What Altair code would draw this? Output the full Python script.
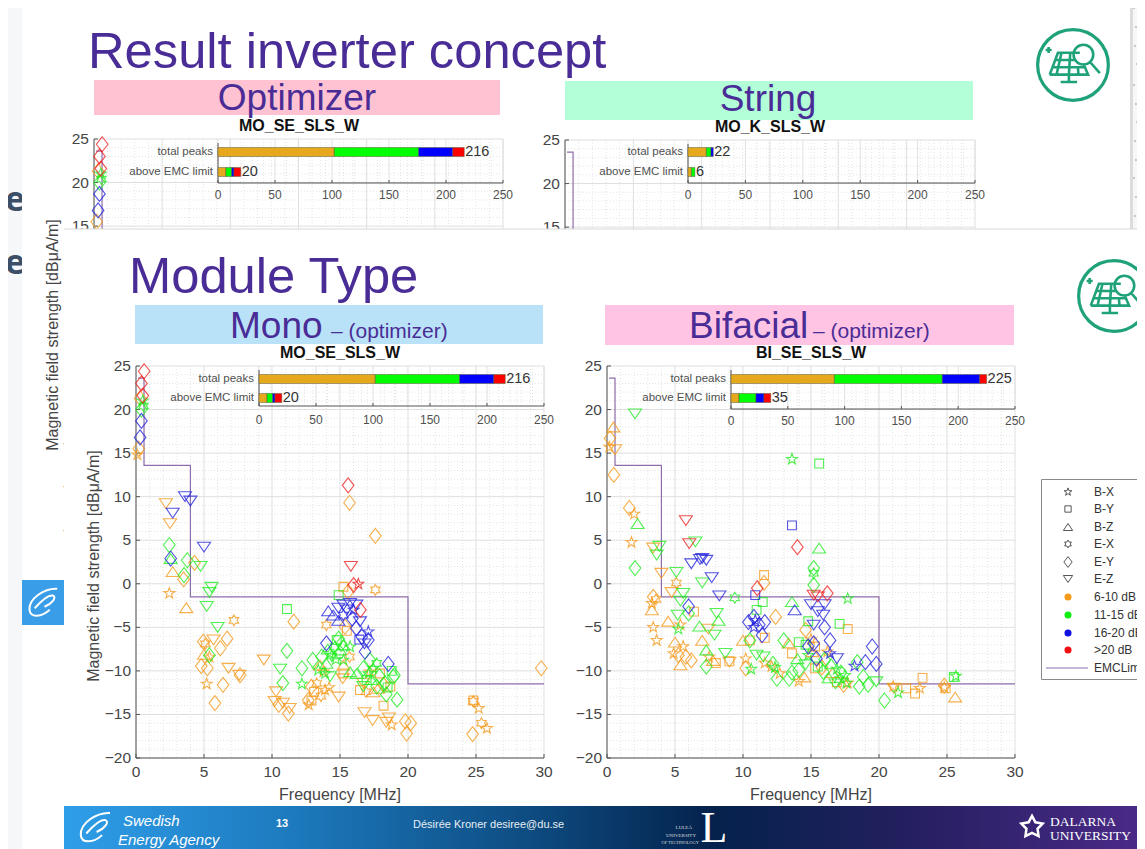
import math
import altair as alt
import pandas as pd

# ---------- values ----------
X_TICKS = [0, 5, 10, 15, 20, 25, 30]
Y_TICKS = [-20, -15, -10, -5, 0, 5, 10, 15, 20, 25]
INSET_TICKS = [0, 50, 100, 150, 200, 250]
EMC_F = [0.15, 0.59, 0.59, 4, 4, 20, 20, 30]
EMC_L = [23.6, 23.6, 13.6, 13.6, -1.5, -1.5, -11.5, -11.5]
ROWS = ["total peaks", "above EMC limit"]
BANDS = ["6-10 dB", "11-15 dB", "16-20 dB", ">20 dB"]
BAND_COLORS = ["#f59a1b", "#22ee22", "#2222dd", "#ee2020"]
BAR_COLORS = ["#e6a81c", "#00ff00", "#0000ff", "#ff0000"]
LEGEND_SHAPES = ["B-X", "B-Y", "B-Z", "E-X", "E-Y", "E-Z"]

MO_TOTAL = [102, 74, 30, 10]
MO_ABOVE = [7, 5, 2, 6]
BI_TOTAL = [91, 95, 33, 6]
BI_ABOVE = [7, 15, 7, 6]
K_TOTAL = [16, 4, 2, 0]
K_ABOVE = [3, 3, 0, 0]

MO_RED = [(0.6,24.4,'d'),(0.4,23,'d'),(0.5,21.6,'d'),(15.6,11.3,'d'),(15.8,2,'v'),(16,-0.15,'d'),(16.35,-0.03,'s'),
          (16.5,-3,'d')]
MO_BLUE = [(0.4,18.7,'d'),(0.3,16.8,'d'),(3.6,10,'v'),(4,9.5,'v'),(2.7,8.1,'v'),(5,4.2,'v'),(2.55,2.9,'d'),
           (14.14,-3.1,'t'),(14.5,-3.6,'t'),(14.88,-2.8,'v'),(15.25,-2.44,'v'),(15.74,-2.25,'v'),(16.2,-2.44,'v'),
           (16,-3,'s'),(16.47,-4.36,'v'),(16.2,-5.1,'d'),(17.08,-5.5,'s'),(17.08,-6.46,'d'),(16.6,-6.08,'d'),
           (16.42,-6.4,'q'),(16.84,-7.8,'d'),(14,-6.84,'d'),(18.55,-9.2,'d'),(15.25,-3.6,'h'),(14.88,-4.2,'t'),
           (15.5,-3.0,'v'),(16.8,-6.9,'v'),(15.9,-4.0,'d')]
MO_GREEN = [(0.4,20,'d'),(0.55,20.4,'h'),(0.5,21,'s'),(2.45,4.45,'d'),(2.55,2.9,'t'),(3.77,2.7,'d'),(3.53,1.0,'d'),
            (4.75,2.0,'v'),(5.56,-0.4,'v'),(5.4,-1,'v'),(5.2,-2.6,'v'),(6,-5,'v'),(5.4,-8.2,'d'),(11.1,-2.9,'q'),
            (10.6,-9.8,'v'),(11.1,-7.7,'d'),(10.8,-11.4,'d'),(12.2,-9.7,'d'),(13,-8.75,'d'),(14.9,-6.3,'d'),
            (19,-10.5,'d'),(19.2,-13.3,'d'),(18.4,-12.7,'d'),(14.9,-1.3,'q'),(12.2,-11.5,'s'),
            (14.27,-7.99,'s'),(14.63,-7.2,'h'),(15,-7.6,'t'),(14,-9.14,'t'),(13.65,-8.37,'d'),(14.76,-6.46,'q'),
            (15.25,-7.03,'t'),(15.74,-7.23,'s'),(14.27,-10.67,'v'),(13.9,-10.3,'s'),(16.23,-10.3,'t'),
            (16.72,-9.7,'d'),(17.2,-8.76,'d'),(17.7,-9.14,'h'),(17.45,-9.7,'s'),(16.96,-11.05,'q'),(17.7,-11.8,'d'),
            (18.3,-11.4,'d'),(18.92,-10.67,'d'),(16.72,-11.8,'v'),(15.74,-10.1,'t'),(15.25,-8.76,'s'),
            (14.4,-8.3,'h'),(14.7,-8.7,'s'),(15.1,-6.9,'d'),(14.1,-7.5,'t'),(13.4,-9.9,'s'),(17.1,-10.3,'s'),
            (17.9,-10.6,'d'),(18.5,-11.9,'q'),(17.3,-11.0,'t'),(18.8,-10.0,'q')]
MO_ORANGE = [(0.3,21.3,'d'),(0.2,15.5,'d'),(0.1,14.8,'s'),(2.2,9.2,'v'),(2.5,6.9,'v'),(15.7,9.3,'d'),(17.6,5.5,'d'),
             (2.7,1.4,'t'),(3.5,0.5,'d'),(2.45,-1.1,'s'),(3.7,-2.75,'t'),(4.3,2.4,'d'),(17.6,-0.7,'h'),(15.25,-0.34,'q'),
             (15.6,-0.9,'d'),(7.2,-4.2,'h'),(11.6,-4.35,'d'),(14,-4.74,'h'),(15.37,-4.93,'d'),
             (4.95,-6.65,'d'),(5.1,-6.9,'h'),(4.8,-9.45,'d'),(5.25,-9.7,'d'),(6.7,-6.3,'d'),(6.2,-7.4,'d'),
             (6.4,-11.6,'d'),(5.8,-13.7,'d'),(7.65,-10.5,'d'),(29.8,-9.7,'d'),(5.7,-6.45,'v'),(6.8,-9.7,'v'),
             (7.6,-10.5,'v'),(9.4,-8.75,'v'),(10.3,-12.4,'v'),(10.2,-13.5,'v'),(10.8,-13.7,'v'),(11.3,-14.3,'v'),
             (14.9,-13,'v'),(16.8,-14.8,'v'),(17.4,-15.7,'v'),(18.6,-15.4,'v'),(15.2,-10.9,'v'),(5.2,-11.5,'s'),
             (12.7,-13.9,'s'),(13.9,-12.2,'s'),(18.8,-16.2,'s'),(25.2,-14.3,'s'),(25.8,-16.6,'s'),(25.4,-16,'h'),
             (15.7,-8.4,'h'),(24.8,-13.5,'h'),(24.75,-17.25,'d'),(19.9,-17.2,'d'),(19.8,-15.8,'d'),(20.2,-16,'d'),
             (11.2,-14.9,'d'),(10.5,-13.9,'d'),(18.2,-14,'q'),(24.8,-13.4,'q'),(5,-8.1,'t'),(5.4,-8.4,'s'),
             (12.67,-13.35,'d'),(13.29,-11.44,'h'),(12.9,-11.82,'d'),(13.53,-9.33,'t'),(13.78,-10.1,'s'),
             (15.25,-9.33,'t'),(15.25,-10.29,'q'),(16.47,-12.2,'q'),(17.45,-12.4,'t'),(17.2,-10.1,'s'),
             (17.94,-10.3,'q'),(18.2,-11.6,'d'),(18.7,-11.8,'q'),(16.72,-11.4,'v'),(13.1,-12.4,'q'),(13.6,-12.9,'h'),
             (12.9,-13.4,'q'),(14.2,-11.9,'s'),(16.9,-12.4,'h'),(17.8,-12.0,'t'),(15.5,-5.4,'q'),(18.4,-15.9,'v')]

BI_RED = [(5.8,7.25,'v'),(6.05,4.6,'v'),(14,4.2,'d'),(11.05,-0.5,'d'),(15.2,-1.3,'v'),(15.5,-1.5,'v'),(16.2,-1.1,'d')]
BI_BLUE = [(13.6,6.7,'q'),(7,2.9,'v'),(6.2,2.3,'v'),(6.84,2.8,'v'),(7.3,2.7,'v'),(7.7,0.7,'v'),(8.26,-1.4,'v'),
           (6,-2.6,'d'),(10.9,-1.3,'q'),(10.4,-4.4,'d'),(10.8,-3.8,'d'),(10.8,-5,'s'),(11.2,-4.7,'d'),(11.6,-4.4,'d'),
           (10.9,-4.2,'s'),(11.4,-5.9,'d'),(13.8,-3,'t'),(15,-2.4,'v'),(15.5,-3.2,'v'),(16,-2.4,'v'),(15.9,-3.6,'v'),
           (15.2,-4.75,'v'),(16,-5,'d'),(16.4,-6.5,'d'),(15.2,-6.85,'d'),(14.8,-7.2,'d'),(15.4,-8.6,'d'),(16.4,-8,'s'),
           (16.9,-8.6,'v'),(18.2,-9.45,'s'),(19,-9,'d'),(19.5,-7.2,'d'),(19.8,-9.2,'d')]
BI_GREEN = [(2.06,19.5,'v'),(2.25,6.9,'t'),(3.85,4.3,'v'),(3.65,3.3,'v'),(6.5,4.8,'v'),(13.6,14.3,'s'),(15.6,13.8,'q'),
            (15.6,4.1,'t'),(2.06,1.8,'d'),(5.1,1.3,'v'),(7,0.1,'v'),(5.6,-1.1,'v'),(5.4,-2,'v'),(6,-3.4,'d'),
            (5.2,-3.6,'v'),(8.06,-3.4,'v'),(8.2,-4.2,'t'),(5.25,-5.2,'s'),(6.8,-4.85,'t'),(7.9,-5.9,'v'),(7.3,-7.6,'t'),
            (7.3,-9.5,'d'),(8.7,-8,'v'),(9.4,-1.6,'h'),(11.45,-2.1,'q'),(11,-3,'q'),(10.5,-6.5,'d'),(11,-8.2,'v'),
            (11.5,-8.4,'v'),(10.6,-9.8,'s'),(12.35,-9.6,'s'),(12.5,-10.9,'d'),(13.4,-10.9,'d'),(13,-6.5,'d'),
            (14.1,-6.7,'q'),(14.6,-7,'q'),(14.1,-9.9,'d'),(14.6,-9.3,'v'),(14.8,-4.3,'q'),(15.2,-0.15,'d'),
            (15.2,1.8,'d'),(15.2,1.2,'h'),(13.6,-2.05,'t'),(17.7,-1.7,'s'),(17.1,-4.6,'q'),(18.4,-9,'d'),
            (18.85,-10.7,'d'),(18.55,-11.8,'d'),(19.2,-11.6,'d'),(19.8,-11.25,'v'),(20.4,-13.4,'d'),(21.4,-12.5,'s'),
            (25.5,-10.7,'q'),(25.65,-10.6,'s'),(16,-8.7,'d'),(16.5,-9.2,'t'),(16.9,-9.8,'s'),(17.2,-10.2,'d'),
            (17.5,-10.5,'s'),(16.3,-10.8,'t'),(17.1,-11,'h'),(17.6,-11.4,'s'),(16.8,-11.5,'v'),(15.5,-9.5,'q'),
            (14.8,-8.2,'s'),(12.2,-9.2,'d'),(13.6,-10.2,'d'),(14,-8.6,'t'),(15.9,-10.1,'d')]
BI_ORANGE = [(0.47,18,'t'),(0.22,16.7,'d'),(0.59,15.4,'v'),(0.17,15.7,'s'),(0.5,12.5,'d'),(1.64,8.7,'d'),(2,8,'s'),
             (1.8,4.75,'s'),(3.4,4.1,'v'),(4,1.2,'v'),(5.1,0.1,'h'),(4.75,-1,'v'),(6.4,-3.2,'q'),(3.4,-1.5,'d'),
             (3.6,-1.8,'h'),(3.3,-2.25,'s'),(3.3,-3,'t'),(3.4,-5,'s'),(3.65,-6.5,'s'),(4.5,-4.3,'t'),(5.4,-4.7,'s'),
             (7.45,-5.2,'v'),(5,-6.7,'t'),(5.6,-7.2,'s'),(4.9,-8,'s'),(5.25,-8.2,'d'),(5.8,-8.4,'d'),(6.2,-8.8,'d'),
             (5.4,-9.3,'t'),(7,-6.5,'t'),(7.8,-8.8,'t'),(9,-9,'v'),(9,-8.9,'q'),(7.5,-8.4,'s'),(8,-9.1,'q'),
             (11.55,0.1,'d'),(11.55,1,'q'),(12.4,-3.8,'d'),(10,-6.5,'t'),(10.5,-6.5,'q'),(11.6,-6.2,'q'),(10.2,-8.6,'s'),
             (10.2,-9.7,'d'),(11.6,-9.1,'s'),(12.1,-9.5,'s'),(12.7,-10.3,'s'),(13.35,-6.8,'t'),(13.6,-8,'q'),
             (14.1,-11.2,'s'),(14.5,-10.7,'t'),(14.6,-5.3,'d'),(17.7,-5.2,'q'),(15,-6.4,'s'),(15.3,-7.2,'q'),
             (15.1,-7.8,'t'),(15.3,-9.7,'q'),(15.8,-9.6,'d'),(16.2,-7.8,'s'),(16.6,-10.2,'t'),(16.9,-11.3,'q'),
             (17.4,-11.6,'d'),(17.7,-11.4,'s'),(21.05,-11.8,'s'),(21.1,-12,'v'),(22,-12,'q'),(22.65,-12.6,'q'),
             (23,-12,'s'),(23.2,-10.8,'q'),(24.8,-11.9,'s'),(24.9,-12,'q'),(24.8,-11.7,'d'),(25.6,-13,'t')]

OPT_RED = [(0.6,24.4,'d'),(0.4,23,'d'),(0.5,21.6,'d')]
OPT_BLUE = [(0.4,18.7,'d'),(0.3,16.8,'d')]
OPT_GREEN = [(0.4,20,'d'),(0.55,20.4,'h'),(0.5,21,'s')]
OPT_ORANGE = [(0.3,21.3,'d'),(0.2,15.5,'d')]

FOOT_COLORS = ["#2f9ee9", "#1c78bb", "#0e4e84", "#04224c", "#241f5f", "#4b2a88"]
FOOT_STOPS = [0, 0.22, 0.42, 0.6, 0.78, 1]
DOT_X = [1134, 1136, 1135, 1137, 1134, 1136, 1137, 1135, 1136, 1134, 1136, 1135]
DOT_Y = [8, 27, 46, 64, 85, 104, 122, 141, 160, 178, 197, 216]

# ---------- drawing styles ----------
INK = "#454545"
TITLE_BLUE = "#4a2c96"
SANS = "Liberation Sans"
ONE = pd.DataFrame({"k": [0]})


def vx(p):
    return alt.value(p - 8)


def radial(n, ro, ri):
    pts = []
    for i in range(2 * n):
        r = ro if i % 2 == 0 else ri
        a = -math.pi / 2 + i * math.pi / n
        pts.append(f"{r * math.cos(a):.3f},{r * math.sin(a):.3f}")
    return "M" + "L".join(pts) + "Z"


PATHS = {
    "s": radial(5, 0.82, 0.33),
    "q": "M-.63,-.63L.63,-.63L.63,.63L-.63,.63Z",
    "t": "M-.93,.7L.93,.7L0,-.7Z",
    "h": radial(6, 0.78, 0.45),
    "d": "M0,-1.07L.83,0L0,1.07L-.83,0Z",
    "v": "M-.93,-.7L.93,-.7L0,.7Z",
}
KEYS = list(PATHS)


def text(t, x, y, size=14, color=INK, align="left", font=SANS, weight="normal", angle=0, style="normal"):
    return alt.Chart(pd.DataFrame({"t": [t]})).mark_text(
        align=align, baseline="middle", fontSize=size, color=color, font=font,
        fontWeight=weight, angle=angle, fontStyle=style,
    ).encode(x=vx(x), y=vx(y), text="t:N")


def rect(x, x2, y, y2, color, stroke=None):
    kw = {"stroke": stroke, "strokeWidth": 1} if stroke else {}
    return alt.Chart(ONE).mark_rect(color=color, **kw).encode(x=vx(x), x2=vx(x2), y=vx(y), y2=vx(y2))


def glyph(path, x, y, size, color, width=1.0, fill=None):
    kw = {"filled": True, "fill": fill} if fill else {"filled": False}
    return alt.Chart(ONE).mark_point(shape=path, size=size, stroke=color, strokeWidth=width, opacity=1, **kw).encode(
        x=vx(x), y=vx(y))


def rect_line(x, x2, y, y2):
    base = alt.Chart(ONE).mark_rule(color="#555555", strokeWidth=1)
    if y == y2:
        return base.encode(x=vx(x), x2=vx(x2), y=vx(y))
    return base.encode(x=vx(x), y=vx(y), y2=vx(y2))


def panel(x0, x1, ytop, ybot, pts, title, in0, row_y, total, above, axis_bottom, ticks_y, label_x):
    sx = alt.Scale(domain=[0, 30], range=[x0 - 8, x1 - 8], nice=False, zero=False)
    sy = alt.Scale(domain=[-20, 25], range=[ybot - 8, ytop - 8], nice=False, zero=False)
    six = alt.Scale(domain=[0, 250], range=[in0 - 8, x1 - 8], nice=False, zero=False)
    syr = alt.Scale(type="point", domain=ROWS, range=[r - 8 for r in row_y], padding=0)
    ax = lambda f="v:Q": alt.X(f, scale=sx, axis=None)
    ay = lambda f="v:Q": alt.Y(f, scale=sy, axis=None)
    L = []
    minor_x = pd.DataFrame({"v": [i for i in range(31) if i % 5]})
    minor_y = pd.DataFrame({"v": [i for i in range(-20, 26) if i % 5]})
    dash = dict(strokeDash=[1, 2], strokeWidth=1, color="#e4e4e4")
    L.append(alt.Chart(minor_x).mark_rule(**dash).encode(x=ax(), y=vx(ytop), y2=vx(ybot)))
    L.append(alt.Chart(minor_y).mark_rule(**dash).encode(y=ay(), x=vx(x0), x2=vx(x1)))
    L.append(alt.Chart(pd.DataFrame({"v": X_TICKS})).mark_rule(color="#dfdfdf").encode(x=ax(), y=vx(ytop), y2=vx(ybot)))
    L.append(alt.Chart(pd.DataFrame({"v": Y_TICKS})).mark_rule(color="#dfdfdf").encode(y=ay(), x=vx(x0), x2=vx(x1)))
    # axes
    L.append(rect_line(x0, x1, ybot, ybot))
    L.append(rect_line(x0, x0, ytop, ybot))
    L.append(alt.Chart(pd.DataFrame({"v": X_TICKS})).mark_rule(color="#555555").encode(x=ax(), y=vx(ybot), y2=vx(ybot - 4)))
    L.append(alt.Chart(pd.DataFrame({"v": Y_TICKS})).mark_rule(color="#555555").encode(y=ay(), x=vx(x0), x2=vx(x0 + 4)))
    L.append(alt.Chart(pd.DataFrame({"v": X_TICKS})).mark_text(fontSize=15.5, font=SANS, color=INK, baseline="middle").encode(
        x=ax(), y=vx(ybot + 14), text="v:Q"))
    L.append(alt.Chart(pd.DataFrame({"v": Y_TICKS})).mark_text(fontSize=15.5, font=SANS, color=INK, align="right", baseline="middle").encode(
        y=ay(), x=vx(x0 - 5), text="v:Q"))
    # EMC limit
    L.append(alt.Chart(pd.DataFrame({"f": EMC_F, "l": EMC_L, "o": range(len(EMC_F))})).mark_line(
        color="#8f6cab", strokeWidth=1.2, interpolate="linear").encode(
        x=ax("f:Q"), y=ay("l:Q"), order="o:Q"))
    # measured peaks
    rows = []
    for band, lst in zip(BANDS, pts):
        rows += [{"f": a, "l": b, "k": c, "b": band} for a, b, c in lst]
    if rows:
        L.append(alt.Chart(pd.DataFrame(rows)).mark_point(filled=False, size=196, strokeWidth=1.1, opacity=0.78).encode(
            x=ax("f:Q"), y=ay("l:Q"),
            shape=alt.Shape("k:N", scale=alt.Scale(domain=KEYS, range=[PATHS[k] for k in KEYS]), legend=None),
            color=alt.Color("b:N", scale=alt.Scale(domain=BANDS, range=BAND_COLORS), legend=None)))
    # inset
    iy = alt.Y("r:N", scale=syr, axis=None)
    minor_i = pd.DataFrame({"v": [i for i in range(0, 251, 10) if i % 50]})
    L.append(alt.Chart(minor_i).mark_rule(**dash).encode(
        x=alt.X("v:Q", scale=six, axis=None), y=vx(ytop), y2=vx(axis_bottom)))
    L.append(alt.Chart(pd.DataFrame({"v": INSET_TICKS})).mark_rule(color="#e0e0e0").encode(
        x=alt.X("v:Q", scale=six, axis=None), y=vx(ytop), y2=vx(axis_bottom)))
    L.append(rect_line(in0, x1, axis_bottom, axis_bottom))
    L.append(rect_line(in0, in0, ytop + 4, axis_bottom))
    L.append(alt.Chart(pd.DataFrame({"v": INSET_TICKS})).mark_rule(color="#555555").encode(
        x=alt.X("v:Q", scale=six, axis=None), y=vx(axis_bottom), y2=vx(axis_bottom - 3)))
    L.append(alt.Chart(pd.DataFrame({"v": INSET_TICKS})).mark_text(fontSize=12, font=SANS, color="#505050", baseline="middle").encode(
        x=alt.X("v:Q", scale=six, axis=None), y=vx(ticks_y), text="v:Q"))
    bars = []
    for row, vals in zip(ROWS, (total, above)):
        c = 0
        for band, v in zip(BANDS, vals):
            if v:
                bars.append({"r": row, "b": band, "s": c, "e": c + v})
            c += v
    L.append(alt.Chart(pd.DataFrame(bars)).mark_bar(size=9, stroke="#5a5a3a", strokeWidth=0.5).encode(
        x=alt.X("s:Q", scale=six, axis=None), x2="e:Q", y=iy,
        color=alt.Color("b:N", scale=alt.Scale(domain=BANDS, range=BAR_COLORS), legend=None)))
    tot = pd.DataFrame({"r": ROWS, "v": [sum(total), sum(above)]})
    L.append(alt.Chart(tot).mark_text(align="left", dx=1, fontSize=14.5, font=SANS, color="#333333", baseline="middle").encode(
        x=alt.X("v:Q", scale=six, axis=None), y=iy, text="v:Q"))
    L.append(alt.Chart(tot).mark_text(align="right", fontSize=11.5, font=SANS, color="#505050", baseline="middle").encode(
        x=vx(in0 - 5), y=iy, text="r:N"))
    L.append(text(title, label_x, ytop - 13, size=16, color="#111111", align="center", weight="bold"))
    return L


SWIRL = "M.95,-.95C.1,-1 -.95,-.3 -.9,.45C-.85,1 -.1,.95 .45,.45M-.55,.35C-.15,-.1 .3,-.55 .65,-.5C.95,-.4 .6,.05 .1,.25"
ICON = ("M-.85,.35L-.55,-.45L.25,-.45M-.85,.35L.55,.35L.4,0M-.75,.08L.4,.08M-.65,-.18L.05,-.18M-.42,-.45L-.6,.35"
        "M-.1,-.45L-.15,.35M.2,.35L.18,.1M-.15,.35L-.15,.62M-.45,.62L.15,.62"
        "M.02,-.38A.36,.36 0 1 1 .74,-.38A.36,.36 0 1 1 .02,-.38M.63,-.1L.98,.3M-1,-.55L-.78,-.55M-.89,-.66L-.89,-.44")
STAR = radial(5, 1, 0.52)


def icon(cx, cy):
    return [
        alt.Chart(ONE).mark_point(shape="circle", size=5000, filled=False, stroke="#1fa27a", strokeWidth=3.2, opacity=1).encode(
            x=vx(cx), y=vx(cy)),
        glyph(ICON, cx, cy, 3000, "#1fa27a", 2.6),
    ]


layers = []
# slide behind
layers.append(rect(0, 1150, 0, 860, "#f5f7f9"))
layers.append(text("te", 25, 201, size=34, color="#3c4f66", align="right", font="Open Sans", weight="bold"))
layers.append(text("ee", 25, 264, size=34, color="#3c4f66", align="right", font="Open Sans", weight="bold"))
layers.append(rect(22, 1130, 3, 860, "#ffffff"))
layers.append(rect(22, 1130, 0, 3, "#dddddd"))
layers.append(rect(1130, 1133, 0, 232, "#dcdcdc"))
dsx = alt.Scale(domain=[0, 1129], range=[0, 1129], nice=False, zero=False)
layers.append(alt.Chart(pd.DataFrame({"x": [d - 8 for d in DOT_X], "y": [d - 8 for d in DOT_Y]})).mark_point(
    filled=True, size=6, color="#c9c9c9", opacity=1).encode(
    x=alt.X("x:Q", scale=dsx, axis=None),
    y=alt.Y("y:Q", scale=alt.Scale(domain=[0, 841], range=[0, 841], nice=False, zero=False), axis=None)))

# upper slide
layers.append(text("Result inverter concept", 88, 53, size=50.7, color=TITLE_BLUE))
layers.append(rect(94, 500, 80, 115, "#ffc2d2"))
layers.append(rect(565, 973, 81, 120, "#b2ffd8"))
layers.append(text("Optimizer", 297, 99, size=37, color=TITLE_BLUE, align="center"))
layers.append(text("String", 768, 100, size=37, color=TITLE_BLUE, align="center"))
layers += icon(1073, 65)
layers += panel(94, 503, 139, 531, [OPT_ORANGE, OPT_GREEN, OPT_BLUE, OPT_RED], "MO_SE_SLS_W", 218,
                [152, 172], MO_TOTAL, MO_ABOVE, 183, 195, 299)
layers += panel(565, 975, 140, 532, [[], [], [], []], "MO_K_SLS_W", 688,
                [152, 172], K_TOTAL, K_ABOVE, 183, 195, 770)
layers.append(text("Magnetic field strength [dBμA/m]", 53, 335, size=16, angle=270, align="center"))
layers.append(rect(22, 64, 580, 625, "#3a9de8"))
layers.append(glyph(SWIRL, 43, 603, 900, "#ffffff", 2))

# front slide
layers.append(rect(64, 1150, 229, 860, "#ffffff"))
layers.append(alt.Chart(ONE).mark_rule(color="#d8d8d8", strokeWidth=1).encode(x=vx(64), x2=vx(1150), y=vx(229)))
layers.append(text("Module Type", 129, 278, size=50.7, color=TITLE_BLUE))
layers.append(rect(135, 543, 305, 344, "#b9e2f8"))
layers.append(rect(605, 1014, 305, 345, "#ffc4e4"))
layers.append(text("Mono", 230, 327, size=37, color=TITLE_BLUE))
layers.append(text("– (optimizer)", 331, 332, size=21, color=TITLE_BLUE))
layers.append(text("Bifacial", 689, 327, size=37, color=TITLE_BLUE))
layers.append(text("– (optimizer)", 813, 332, size=21, color=TITLE_BLUE))
layers += icon(1114, 296)
layers += panel(136, 544, 366, 758, [MO_ORANGE, MO_GREEN, MO_BLUE, MO_RED], "MO_SE_SLS_W", 259,
                [379, 398], MO_TOTAL, MO_ABOVE, 406, 420, 340)
layers += panel(607, 1015, 366, 758, [BI_ORANGE, BI_GREEN, BI_BLUE, BI_RED], "BI_SE_SLS_W", 731,
                [379, 398], BI_TOTAL, BI_ABOVE, 409, 421, 811)
layers.append(text("Magnetic field strength [dBμA/m]", 94, 566, size=16, angle=270, align="center"))
layers.append(text("Frequency [MHz]", 340, 795, size=16, align="center"))
layers.append(text("Frequency [MHz]", 811, 795, size=16, align="center"))

# legend
layers.append(rect(1041.5, 1150, 479.5, 679.5, "#ffffff", stroke="#8a8a8a"))
LEG_Y = [492, 509, 527, 544, 562, 579, 597, 615, 633, 650]
for name, k, y in zip(LEGEND_SHAPES, KEYS, LEG_Y):
    layers.append(glyph(PATHS[k], 1068, y, 100, "#444444", 0.9))
    layers.append(text(name, 1094, y, size=12, color="#333333"))
for name, c, y in zip(BANDS, ["#f59a1b", "#11ee11", "#1010e0", "#ee1010"], LEG_Y[6:]):
    layers.append(alt.Chart(ONE).mark_point(shape="circle", size=50, filled=True, color=c, opacity=1).encode(x=vx(1068), y=vx(y)))
    layers.append(text(name, 1094, y, size=12, color="#333333"))
layers.append(alt.Chart(ONE).mark_rule(color="#8f6cab", strokeWidth=1).encode(x=vx(1046), x2=vx(1088), y=vx(668)))
layers.append(text("EMCLimit", 1094, 668, size=12, color="#333333"))

# footer
grad = alt.Gradient(gradient="linear", x1=0, x2=1, y1=0, y2=0,
                    stops=[alt.GradientStop(offset=o, color=c) for o, c in zip(FOOT_STOPS, FOOT_COLORS)])
layers.append(alt.Chart(ONE).mark_rect(color=grad).encode(x=vx(64), x2=vx(1145), y=vx(806), y2=vx(849)))
layers.append(glyph(SWIRL, 95, 828, 1000, "#ffffff", 2))
layers.append(text("Swedish", 123, 821, size=15, color="#ffffff", style="italic"))
layers.append(text("Energy Agency", 118, 840, size=15, color="#ffffff", style="italic"))
layers.append(text("13", 276, 824, size=11, color="#ffffff", weight="bold"))
layers.append(text("Désirée Kroner desiree@du.se", 413, 825, size=11, color="#e8eef4"))
layers.append(text("L", 714, 829, size=44, color="#ffffff", align="center", font="Liberation Serif"))
layers.append(text("LULEÅ", 692, 827, size=5, color="#dddddd", align="right", font="Liberation Serif"))
layers.append(text("UNIVERSITY", 696, 835, size=5, color="#dddddd", align="right", font="Liberation Serif"))
layers.append(text("OF TECHNOLOGY", 699, 843, size=4.5, color="#dddddd", align="right", font="Liberation Serif"))
layers.append(glyph(STAR, 1032, 827, 500, "#ffffff", 2.5))
layers.append(text("DALARNA", 1050, 822, size=13.5, color="#ffffff", font="Liberation Serif"))
layers.append(text("UNIVERSITY", 1050, 836, size=13.5, color="#ffffff", font="Liberation Serif"))

chart = alt.layer(*layers).resolve_scale(
    x="independent", y="independent", color="independent", shape="independent"
).properties(
    width=1129, height=841, padding=0, autosize=alt.AutoSizeParams(type="none"), background="#ffffff"
).configure_view(stroke=None)

chart.save("out.html", embed_options={"renderer": "svg", "actions": False})
